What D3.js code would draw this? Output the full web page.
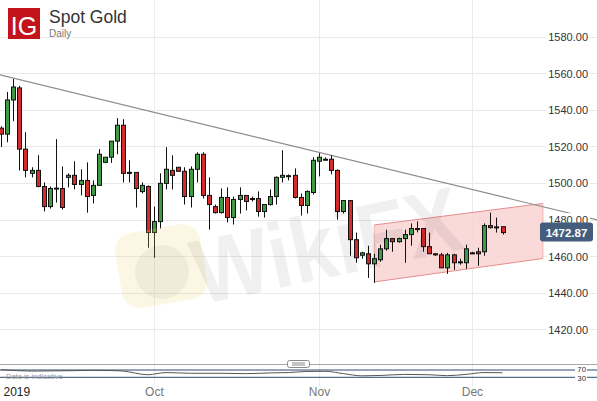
<!DOCTYPE html>
<html>
<head>
<meta charset="utf-8">
<script src="https://cdn.jsdelivr.net/npm/d3@7/dist/d3.min.js"></script>
<style>
  html, body { margin: 0; padding: 0; background: #fff; }
  svg { display: block; font-family: "Liberation Sans", Arial, sans-serif; }
</style>
</head>
<body>
<svg id="chart" width="597" height="401"></svg>
<script>
// ---- Data ----
const opens  = [1530,1526.7,1545.4,1552,1518.5,1505.3,1506.9,1498.1,1487.1,1497,1497,1503.1,1504.2,1499.2,1501.4,1493.2,1498.7,1511.3,1514.1,1522.9,1531.6,1505.5,1505.8,1495.3,1498.1,1472.9,1478.9,1499.8,1506.9,1508.6,1506.4,1492.6,1507.5,1515.7,1493.2,1487.1,1483.8,1492.1,1481.1,1491,1493.2,1491.5,1491.5,1484.4,1488.2,1492.6,1503.1,1504,1504.2,1492.1,1487.7,1494.8,1511.9,1513,1513,1506.9,1484.4,1490.4,1469,1460.5,1461.3,1455.8,1458,1464,1469.6,1467.9,1469.6,1471.8,1475.1,1475.1,1465.2,1461.3,1460.7,1453.6,1460.7,1456.9,1456.4,1461.8,1462.4,1462.4,1476.7,1476,1476.1];
const highs  = [1531,1549.8,1556.9,1553.1,1527.8,1508.6,1515.2,1500.3,1498.1,1524,1509.1,1505.3,1511.9,1507.5,1511.3,1501.4,1518.5,1514.1,1522.9,1535.5,1534.9,1512.4,1505.8,1500.3,1498.7,1487.1,1505.3,1519.6,1515.2,1508.6,1508.6,1509.1,1516.8,1516.8,1503.1,1488.2,1497,1497.6,1492.6,1497.6,1493.2,1492.6,1495.4,1488.2,1496.5,1503.6,1517.9,1504.7,1508,1494.3,1495.9,1514.1,1516.3,1514,1515.2,1507.5,1490.4,1490.4,1472.9,1462.4,1465.7,1461.3,1466.3,1474.5,1469.6,1470.1,1474.5,1477.9,1479,1475.1,1472.9,1461.5,1461.8,1461.8,1461.3,1458.6,1466.3,1462.4,1464.6,1477.9,1483.8,1481.1,1476.1];
const lows   = [1519.7,1522.3,1533.8,1506.9,1503.1,1503.1,1497.6,1484.4,1486,1489.3,1485.5,1497.6,1496.5,1493.2,1483.8,1488.8,1498.7,1510.8,1511,1515.7,1500.3,1500.3,1486.6,1494.3,1464.6,1459.1,1475.1,1496.5,1496.5,1506.4,1488.2,1486.6,1500.3,1491.5,1474.5,1483.3,1483.3,1478.4,1477.3,1483.3,1485,1489.9,1481.6,1481.1,1487.7,1488.2,1500.3,1501.4,1491.5,1482.2,1483.3,1493.7,1503.6,1512.4,1504.7,1480,1483.3,1460.2,1456.4,1458.6,1448.1,1445.4,1456.9,1463,1462.4,1467.4,1456.4,1465.7,1473,1462.4,1461.3,1460.2,1453.6,1450.3,1452.5,1455.3,1453.1,1461.3,1454.7,1460.2,1475.1,1472.9,1471.8];
const closes = [1526.7,1545.4,1552.5,1518.5,1506.9,1506.9,1498.1,1487.1,1497,1497.2,1486.6,1504.2,1499.2,1501.4,1492.6,1498.7,1515.7,1514.1,1522.9,1531.6,1505.3,1505.8,1497,1498.7,1472.9,1478.9,1499.8,1507.5,1504.2,1506.4,1492.6,1507.5,1515.7,1493.2,1488.2,1483.8,1492.1,1481.1,1491,1493.2,1489.9,1491.5,1484.4,1488.2,1492.6,1503.1,1504.2,1503.5,1492.1,1487.7,1495.4,1512.4,1514.1,1512.7,1506.9,1484.4,1490.4,1469,1459.1,1461.8,1455.8,1458.6,1464,1469.6,1467.9,1469.6,1471.8,1475.1,1474.8,1465.2,1461.3,1460.7,1453.6,1460.7,1456.4,1456.4,1464,1461.8,1461.3,1476.7,1475.6,1475.6,1472.87];

const priceTicks = [1420,1440,1460,1480,1500,1520,1540,1560,1580];
const dateTickIdx = [0,25,52,77];
const dateTickLabels = ["2019","Oct","Nov","Dec"];
const lastPrice = 1472.87;

// trend line and channel (candle index, price)
const trendLine = [[-1,1559.8],[98,1479.4]];
const channel = [[61.04,1477.05],[88.6,1488.8],[88.6,1458.7],[61.04,1445.9]];

// indicator (read approximately)
const rsiIdx  = [0,5,11,15,18,20,24,27,31,36,40,44,47,50,53,56,59,62,66,70,73,76,79,82];
const rsiVals = [72,64,66,68,67,64,44,56,52,52,50,54,56,62,63,50,38,40,46,44,39,46,56,55];
const rsiLevels = [70,30];

// ---- Drawing ----
const W = 597, H = 401;
const svg = d3.select("#chart");

const x = d3.scaleLinear().domain([0, 82]).range([1, 502.5]);
const y = d3.scaleLinear().domain([1420, 1580]).range([329.3, 36.7]);
const yR = d3.scaleLinear().domain([30, 70]).range([377.3, 370]);

const defs = svg.append("defs");
defs.append("clipPath").attr("id","plotClip").append("rect")
  .attr("x",0).attr("y",0).attr("width",W).attr("height",363);

// gridlines
const grid = svg.append("g");
grid.selectAll("line.h").data(priceTicks).join("line")
  .attr("x1",0).attr("x2",W)
  .attr("y1",d=>Math.round(y(d))+0.5).attr("y2",d=>Math.round(y(d))+0.5)
  .attr("stroke","#e9e9e9").attr("stroke-width",1);
grid.selectAll("line.v").data(dateTickIdx.slice(1)).join("line")
  .attr("y1",0).attr("y2",386)
  .attr("x1",d=>Math.round(x(d))+0.5).attr("x2",d=>Math.round(x(d))+0.5)
  .attr("stroke","#ececec").attr("stroke-width",1);

const plot = svg.append("g").attr("clip-path","url(#plotClip)");

// channel
plot.append("polygon")
  .attr("points", channel.map(p => [x(p[0]), y(p[1])].join(",")).join(" "))
  .attr("fill","#f9d2d2").attr("fill-opacity",0.85)
  .attr("stroke","none");
plot.append("line")
  .attr("x1",x(channel[0][0])).attr("y1",y(channel[0][1]))
  .attr("x2",x(channel[1][0])).attr("y2",y(channel[1][1]))
  .attr("stroke","#e58d8d").attr("stroke-width",1);
plot.append("line")
  .attr("x1",x(channel[3][0])).attr("y1",y(channel[3][1]))
  .attr("x2",x(channel[2][0])).attr("y2",y(channel[2][1]))
  .attr("stroke","#e58d8d").attr("stroke-width",1);
plot.append("line")
  .attr("x1",x(channel[0][0])).attr("y1",y(channel[0][1]))
  .attr("x2",x(channel[3][0])).attr("y2",y(channel[3][1]))
  .attr("stroke","#f0b0b0").attr("stroke-width",1);
plot.append("line")
  .attr("x1",x(channel[1][0])).attr("y1",y(channel[1][1]))
  .attr("x2",x(channel[2][0])).attr("y2",y(channel[2][1]))
  .attr("stroke","#f0b0b0").attr("stroke-width",1);

// trend line
plot.append("line")
  .attr("x1",x(trendLine[0][0])).attr("y1",y(trendLine[0][1]))
  .attr("x2",x(trendLine[1][0])).attr("y2",y(trendLine[1][1]))
  .attr("stroke","#8c8c8c").attr("stroke-width",1.2);

// candles
const candles = opens.map((o,i)=>({i, o, h:highs[i], l:lows[i], c:closes[i]}));
const cg = plot.append("g");
const cEl = cg.selectAll("g.c").data(candles).join("g");
cEl.append("line")
  .attr("x1",d=>Math.round(x(d.i))+0.5).attr("x2",d=>Math.round(x(d.i))+0.5)
  .attr("y1",d=>y(d.h)).attr("y2",d=>y(d.l))
  .attr("stroke","#111").attr("stroke-width",1);
cEl.append("rect")
  .attr("x",d=>Math.round(x(d.i))-1.5)
  .attr("width",4)
  .attr("y",d=>y(Math.max(d.o,d.c)))
  .attr("height",d=>Math.max(1, Math.abs(y(d.o)-y(d.c))))
  .attr("fill",d=>d.c>=d.o ? "#3f9a43" : "#d62b2b")
  .attr("stroke","#111").attr("stroke-width",1);

// watermark
const wm = svg.append("g").attr("pointer-events","none");
wm.append("rect")
  .attr("x",118).attr("y",228).attr("width",86).attr("height",76).attr("rx",18)
  .attr("transform","rotate(-10 161 266)")
  .attr("fill","#f1d77a").attr("fill-opacity",0.2);
wm.append("circle").attr("cx",162).attr("cy",272).attr("r",27)
  .attr("fill","#000").attr("fill-opacity",0.045);
wm.append("text")
  .attr("x",200).attr("y",305)
  .attr("transform","rotate(-12 200 305)")
  .attr("font-size",92).attr("font-weight","bold")
  .attr("textLength",272).attr("lengthAdjust","spacingAndGlyphs")
  .attr("fill","#000").attr("fill-opacity",0.06)
  .text("WikiFX");

// y axis labels (right)
const yAxis = d3.axisRight(y).tickValues(priceTicks).tickFormat(d3.format(".2f")).tickSize(0);
const yg = svg.append("g").attr("transform","translate(588,0)").call(yAxis);
yg.select(".domain").remove();
yg.selectAll(".tick").insert("rect","text")
  .attr("x",-42).attr("y",-7).attr("width",44).attr("height",14).attr("fill","#fff");
yg.selectAll(".tick text")
  .attr("x",0).attr("text-anchor","end").attr("dy","0.35em")
  .attr("font-size",11).attr("fill","#333")
  .attr("font-family","'Liberation Sans', Arial, sans-serif");

// last price tag
const tagY = y(lastPrice);
svg.append("rect").attr("x",540).attr("y",tagY-10).attr("width",53).attr("height",19).attr("rx",3)
  .attr("fill","#445d7c");
svg.append("text").attr("x",566.5).attr("y",tagY).attr("dy","0.35em")
  .attr("text-anchor","middle").attr("font-size",11.5).attr("font-weight","bold")
  .attr("fill","#fff").text(d3.format(".2f")(lastPrice));

// separator + handle
svg.append("line").attr("x1",0).attr("x2",W).attr("y1",364.5).attr("y2",364.5)
  .attr("stroke","#a8a8a8").attr("stroke-width",1);
svg.append("rect").attr("x",287.5).attr("y",360.5).attr("width",22).attr("height",7).attr("rx",2)
  .attr("fill","#fff").attr("stroke","#8a8a8a");
svg.append("line").attr("x1",292).attr("x2",305).attr("y1",363).attr("y2",363).attr("stroke","#888");
svg.append("line").attr("x1",292).attr("x2",305).attr("y1",365).attr("y2",365).attr("stroke","#888");

// indicator panel
svg.selectAll("line.lvl").data(rsiLevels).join("line")
  .attr("x1",0).attr("x2",W)
  .attr("y1",d=>yR(d)).attr("y2",d=>yR(d))
  .attr("stroke","#2e4d6c").attr("stroke-width",1);
svg.append("text").attr("x",6).attr("y",378.5).attr("font-size",7.5).attr("fill","#999")
  .text("Data is indicative");
const rsiLine = d3.line().x((d,k)=>x(rsiIdx[k])).y(d=>yR(d)).curve(d3.curveMonotoneX);
svg.append("path").datum(rsiVals).attr("d",rsiLine)
  .attr("fill","none").attr("stroke","#555").attr("stroke-width",1);
rsiLevels.forEach((lv,k)=>{
  svg.append("rect").attr("x",575).attr("y",k===0?367:376).attr("width",12).attr("height",5.5).attr("fill","#fff");
});
svg.selectAll("text.lvl").data(rsiLevels).join("text")
  .attr("x",586).attr("y",(d,k)=>k===0?372.3:381.2).attr("text-anchor","end")
  .attr("font-size",7.8).attr("fill","#333").text(d=>d);

// x axis
const xAxis = d3.axisBottom(x).tickValues(dateTickIdx).tickFormat((d,k)=>dateTickLabels[k]).tickSize(0);
const xg = svg.append("g").attr("transform","translate(0,384)").call(xAxis);
xg.select(".domain").remove();
xg.selectAll(".tick text")
  .attr("font-size",12).attr("fill","#777")
  .attr("font-family","'Liberation Sans', Arial, sans-serif");
xg.selectAll(".tick").filter((d,k)=>k===0).select("text")
  .attr("text-anchor","start").attr("x",2).attr("fill","#222");

// header
svg.append("rect").attr("x",8).attr("y",8).attr("width",32).attr("height",31).attr("fill","#c4141b");
svg.append("text").attr("x",24).attr("y",35).attr("text-anchor","middle")
  .attr("font-size",25).attr("fill","#fff").text("IG");
svg.append("text").attr("x",49).attr("y",23).attr("font-size",17.5).attr("fill","#333").text("Spot Gold");
svg.append("text").attr("x",49).attr("y",36.5).attr("font-size",10).attr("fill","#777").text("Daily");
</script>
</body>
</html>
